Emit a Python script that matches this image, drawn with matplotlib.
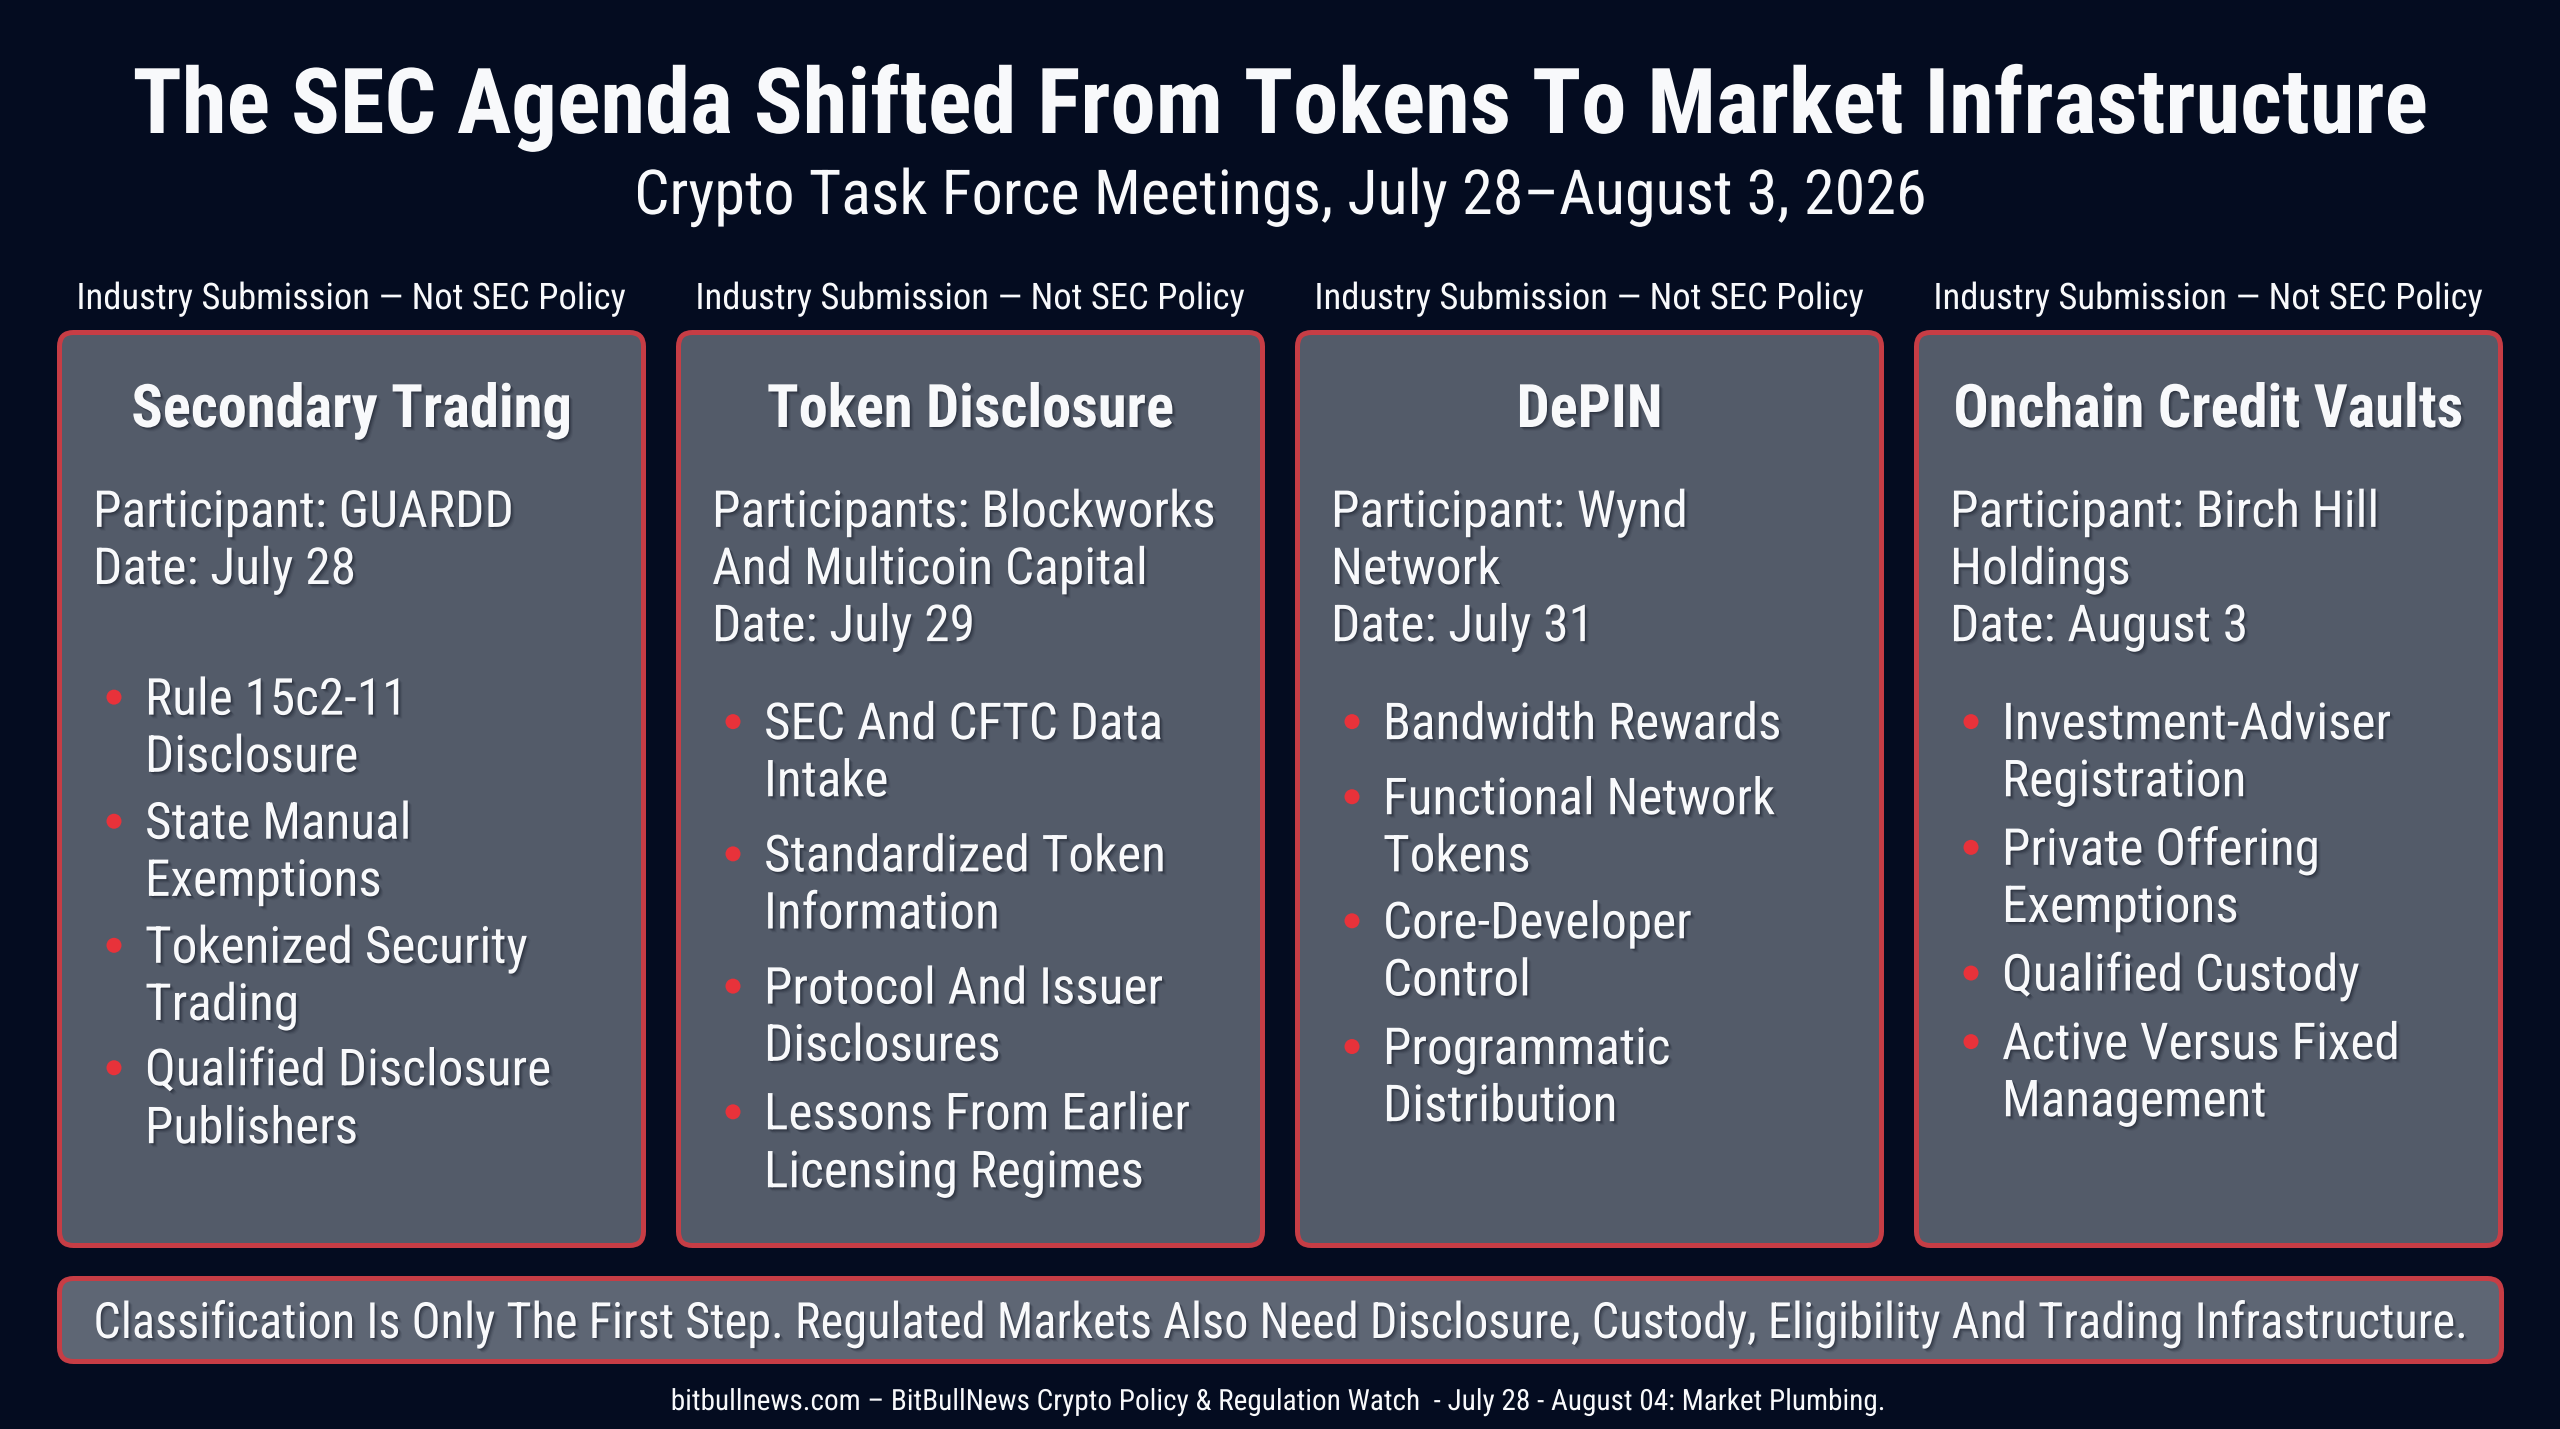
import matplotlib
matplotlib.use("Agg")
import matplotlib.pyplot as plt
from matplotlib.patches import FancyBboxPatch, Circle
from matplotlib.patheffects import AbstractPathEffect
from matplotlib.transforms import Affine2D

TITLE = "The SEC Agenda Shifted From Tokens To Market Infrastructure"
SUBTITLE = "Crypto Task Force Meetings, July 28\u2013August 3, 2026"
TAG = "Industry Submission \u2014 Not SEC Policy"
BANNER = "Classification Is Only The First Step. Regulated Markets Also Need Disclosure, Custody, Eligibility And Trading Infrastructure."
FOOTER = "bitbullnews.com \u2013 BitBullNews Crypto Policy & Regulation Watch  - July 28 - August 04: Market Plumbing."

card_titles = ["Secondary Trading", "Token Disclosure", "DePIN", "Onchain Credit Vaults"]
card_headers = [
    ["Participant: GUARDD", "Date: July 28"],
    ["Participants: Blockworks", "And Multicoin Capital", "Date: July 29"],
    ["Participant: Wynd", "Network", "Date: July 31"],
    ["Participant: Birch Hill", "Holdings", "Date: August 3"],
]
card_bullets = [
    [["Rule 15c2-11", "Disclosure"], ["State Manual", "Exemptions"], ["Tokenized Security", "Trading"], ["Qualified Disclosure", "Publishers"]],
    [["SEC And CFTC Data", "Intake"], ["Standardized Token", "Information"], ["Protocol And Issuer", "Disclosures"], ["Lessons From Earlier", "Licensing Regimes"]],
    [["Bandwidth Rewards"], ["Functional Network", "Tokens"], ["Core-Developer", "Control"], ["Programmatic", "Distribution"]],
    [["Investment-Adviser", "Registration"], ["Private Offering", "Exemptions"], ["Qualified Custody"], ["Active Versus Fixed", "Management"]],
]

# layout (reference pixels)
W, H = 2560, 1429
card_left = [58, 677, 1296, 1915]
card_w, card_top, card_bot = 587, 331, 1247
S = 2560 / 1568
INSET = 1.5
header_y = [[312, 347], [312, 347, 382], [312, 347, 382], [312, 347, 382]]
bullet_y = [
    [[427, 462], [503, 538], [579, 614], [654, 689.5]],
    [[442, 477], [523, 558], [604, 639], [681, 716.5]],
    [[442], [488, 523], [564, 599], [641, 676]],
    [[442, 477], [519, 554], [596], [638, 673]],
]

BG = "#040c20"
FILL = "#535b69"
BANNER_FILL = "#5e6674"
RED = "#c73d45"
DOT = "#e8323a"
WHITE = "#f8f9fb"
FONT = ["Roboto Condensed", "Roboto", "DejaVu Sans"]


class Squeeze(AbstractPathEffect):
    """Fine width adjustment about a fixed x, optionally with a soft shadow."""
    def __init__(self, sx, anchor, shadow=False):
        self.sx, self.anchor, self.shadow = sx, anchor, shadow

    def draw_path(self, renderer, gc, tpath, affine, rgbFace=None):
        t = affine + Affine2D().translate(-self.anchor, 0).scale(self.sx, 1).translate(self.anchor, 0)
        if self.shadow:
            for (dx, dy, a) in [(1, -1, .24), (2, -2, .18), (3, -3, .12), (4, -4, .07)]:
                g = renderer.new_gc()
                g.copy_properties(gc)
                g.set_alpha(a)
                g.set_linewidth(0)
                renderer.draw_path(g, tpath, t + Affine2D().translate(dx, dy), (0.05, 0.07, 0.12))
                g.restore()
        renderer.draw_path(gc, tpath, t, rgbFace)


fig = plt.figure(figsize=(W / 100, H / 100), dpi=100, facecolor=BG)
ax = fig.add_axes([0, 0, 1, 1])
ax.set_xlim(0, W)
ax.set_ylim(H, 0)
ax.axis("off")


def txt(x, y, s, px, weight="normal", ha="left", sx=1.0, shadow=False, color=WHITE):
    return ax.text(x, y, s, fontsize=px * 0.72, fontweight=weight, ha=ha, va="baseline",
                   color=color, family=FONT,
                   path_effects=[Squeeze(sx, x, shadow)])


def box(x0, y0, x1, y1, fill, lw=5.0, r=14):
    x0, y0, x1, y1 = x0 + INSET, y0 + INSET, x1 - INSET, y1 - INSET
    ax.add_patch(FancyBboxPatch((x0 + r, y0 + r), x1 - x0 - 2 * r, y1 - y0 - 2 * r,
                                boxstyle=f"round,pad={r},rounding_size={r}",
                                fc=fill, ec=RED, lw=lw * 0.72))


txt(W / 2 + 1, 133, TITLE, 91, "bold", "center", 0.997)
txt(W / 2, 214, SUBTITLE, 62, "normal", "center", 1.003)

for i, left in enumerate(card_left):
    cx = left + card_w / 2
    txt(cx, 309, TAG, 36.6, "normal", "center", 1.0)
    box(left, card_top, left + card_w, card_bot, FILL)
    txt(cx, 427, card_titles[i], 60, "bold", "center", 0.975, True)
    x_h = left + 35
    for s, y in zip(card_headers[i], header_y[i]):
        txt(x_h, y * S + 17.5, s, 51, "normal", "left", 1.01, True)
    x_b = left + 87
    for lines, ys in zip(card_bullets[i], bullet_y[i]):
        ax.add_patch(Circle((left + 56, ys[0] * S), 7.5, fc=DOT, ec="none"))
        for s, y in zip(lines, ys):
            txt(x_b, y * S + 17.5, s, 51, "normal", "left", 1.005, True)

box(58, 1277, 2503, 1363, BANNER_FILL)
txt(1281, 1338, BANNER, 50, "normal", "center", 0.967, True)
txt(1278, 1410, FOOTER, 29.25, "normal", "center", 1.0)

fig.savefig("out.png", dpi=100, facecolor=BG)
